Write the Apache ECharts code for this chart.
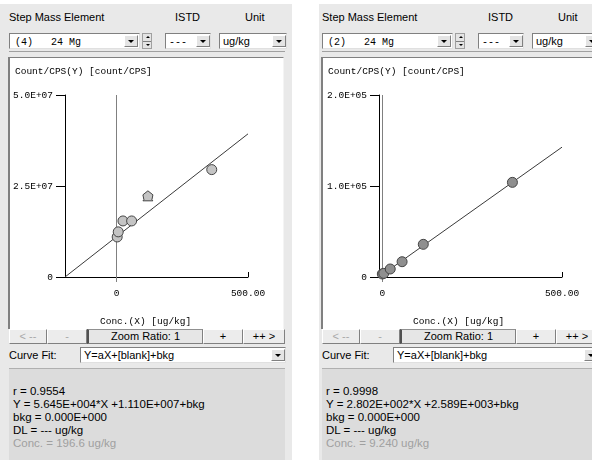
<!DOCTYPE html>
<html><head><meta charset="utf-8">
<script src="https://cdn.jsdelivr.net/npm/echarts@6/dist/echarts.min.js"></script>
<style>
html,body{margin:0;padding:0;width:592px;height:460px;overflow:hidden;background:#fff;font-family:"Liberation Sans",Arial,sans-serif;font-size:11px;color:#000}
.abs{position:absolute;box-sizing:border-box}
.panel{background:#e9e9e9;top:4px;height:456px}
.lbl{white-space:nowrap;line-height:13px}
.dd{background:#fff;border-top:1px solid #808080;border-left:1px solid #808080;border-right:1px solid #e0e0e0;border-bottom:1px solid #e0e0e0;height:16px;overflow:hidden;white-space:nowrap}
.dd .t{position:absolute;left:3px;top:1px;line-height:13px;white-space:pre}
.mono{font-family:"Liberation Mono",monospace;font-size:10px}
.arr{position:absolute;top:1px;width:14px;height:12px;background:#e4e4e4;border-top:1px solid #fff;border-left:1px solid #fff;border-right:1px solid #808080;border-bottom:1px solid #808080;box-sizing:border-box}
.arr:after{content:"";position:absolute;left:3px;top:4px;border-left:3px solid transparent;border-right:3px solid transparent;border-top:3px solid #000}
.spin{background:#e4e4e4;border:1px solid #a0a0a0;width:10px;height:16px}
.plot{background:#fff;border-top:1px solid #808080;border-left:2px solid #808080;border-right:1px solid #f4f4f4}
.btn{top:329px;height:15px;background:#ececec;border-top:1px solid #fff;border-left:1px solid #fff;border-right:1px solid #808080;border-bottom:1px solid #808080;text-align:center;line-height:13px;font-size:11px}
.dis{color:#a8a8a8}
.info{background:#dcdcdc;border-top:1px solid #b0b0b0;top:368px;height:92px}
.info div{position:absolute;left:4px;white-space:nowrap;font-size:11.5px;line-height:13px}
#chart{position:absolute;left:0;top:0;width:592px;height:460px;z-index:5;pointer-events:none}
</style></head>
<body>
<div id="ui"></div>
<div id="chart"></div>
<script>
// ---------- data ----------
const panelElement = ['(4)   24 Mg', '(2)   24 Mg'];
const unitLabel = 'ug/kg';
const curveFitLabel = 'Y=aX+[blank]+bkg';

// left calibration (Mg, step 4)
const leftConc = [2, 6, 24, 57, 119, 362];
const leftCps  = [1.10e7, 1.24e7, 1.54e7, 1.54e7, 2.23e7, 2.95e7];
const leftExcluded = [false, false, false, false, true, false];
const leftFit = {a: 5.645e4, b: 1.110e7};
const leftYTicks = [0, 2.5e7, 5.0e7];
const leftYTickLabels = ['0', '2.5E+07', '5.0E+07'];
const leftInfo = ['r = 0.9554', 'Y = 5.645E+004*X +1.110E+007+bkg', 'bkg = 0.000E+000', 'DL = --- ug/kg', 'Conc. = 196.6 ug/kg'];

// right calibration (Mg, step 2)
const rightConc = [0, 4, 22, 55, 114, 362];
const rightCps  = [3300, 4000, 8800, 16800, 35900, 104000];
const rightExcluded = [false, false, false, false, false, false];
const rightFit = {a: 2.802e2, b: 2.589e3};
const rightYTicks = [0, 1.0e5, 2.0e5];
const rightYTickLabels = ['0', '1.0E+05', '2.0E+05'];
const rightInfo = ['r = 0.9998', 'Y = 2.802E+002*X +2.589E+003+bkg', 'bkg = 0.000E+000', 'DL = --- ug/kg', 'Conc. = 9.240 ug/kg'];

const xTickValues = [0, 500];
const xTickLabels = ['0', '500.00'];
const xMax = 500;

// ---------- UI chrome ----------
function buildPanel(ox, elemText, info, grayLeft, grayW){
  const h = [];
  h.push(`<div class="abs panel" style="left:${grayLeft}px;width:${grayW}px"></div>`);
  h.push(`<div class="abs lbl" style="left:${ox+9}px;top:11px">Step Mass Element</div>`);
  h.push(`<div class="abs lbl" style="left:${ox+175}px;top:11px">ISTD</div>`);
  h.push(`<div class="abs lbl" style="left:${ox+245}px;top:11px">Unit</div>`);
  h.push(`<div class="abs dd" style="left:${ox+9}px;top:33px;width:131px"><span class="t mono" style="left:5px;top:2px">${elemText}</span><div class="arr" style="left:114px"></div></div>`);
  h.push(`<div class="abs spin" style="left:${ox+142}px;top:33px"><div style="position:absolute;left:0;top:7px;width:8px;border-top:1px solid #808080"></div><div style="position:absolute;left:3px;top:2px;border-left:2px solid transparent;border-right:2px solid transparent;border-bottom:2px solid #000"></div><div style="position:absolute;left:3px;top:10px;border-left:2px solid transparent;border-right:2px solid transparent;border-top:2px solid #000"></div></div>`);
  h.push(`<div class="abs dd" style="left:${ox+165}px;top:33px;width:46px"><span class="t mono" style="top:2px">---</span><div class="arr" style="left:30px"></div></div>`);
  h.push(`<div class="abs dd" style="left:${ox+219}px;top:33px;width:68px"><span class="t">${unitLabel}</span><div class="arr" style="left:52px"></div></div>`);
  h.push(`<div class="abs" style="left:${ox+9}px;top:51px;width:276px;border-top:1px solid #a0a0a0"></div>`);
  h.push(`<div class="abs plot" style="left:${ox+8}px;top:57px;width:276px;height:272px"></div>`);
  const btns = [['&lt; --', 9, 38, 'dis'], ['-', 47, 40, 'dis'], ['Zoom Ratio: 1', 87, 116, 'zr'], ['+', 203, 40, ''], ['++ &gt;', 243, 42, '']];
  btns.forEach(b=>{
    const extra = b[3]==='zr' ? 'border-left:2px solid #505050;border-top:1px solid #909090;background:#e6e6e6' : '';
    h.push(`<div class="abs btn ${b[3]==='dis'?'dis':''}" style="left:${ox+b[1]}px;width:${b[2]}px;${extra}">${b[0]}</div>`);
  });
  h.push(`<div class="abs lbl" style="left:${ox+9}px;top:349px">Curve Fit:</div>`);
  h.push(`<div class="abs dd" style="left:${ox+80}px;top:347px;width:206px"><span class="t">${curveFitLabel}</span><div class="arr" style="left:190px"></div></div>`);
  let inf = `<div class="abs info" style="left:${ox+9}px;width:276px">`;
  info.forEach((s,i)=>{ inf += `<div style="top:${16+i*13}px;${i===4?'color:#a0a0a0':''}">${s}</div>`; });
  inf += '</div>';
  h.push(inf);
  return h.join('');
}
document.getElementById('ui').innerHTML =
  buildPanel(0, panelElement[0], leftInfo, 0, 292) +
  buildPanel(313, panelElement[1], rightInfo, 319, 273);

// ---------- chart ----------
const chart = echarts.init(document.getElementById('chart'), null, {renderer:'canvas'});
const monoFont = '"Liberation Mono", monospace';

function gridSet(idx, left, conc, cps, excluded, fit, yTicks, yLabels, ptColor){
  const xMin = -fit.b / fit.a;
  const yMax = yTicks[yTicks.length-1];
  const grid = {left: left, top: 95, width: 183, height: 182};
  const xAxes = [{
    gridIndex: idx, type: 'value', min: xMin, max: xMax,
    axisLine: {show: true, onZero: false, lineStyle: {color: '#000', width: 1}},
    axisTick: {show: true, inside: true, length: 5, customValues: [xTickValues[1]], lineStyle: {color: '#000'}},
    axisLabel: {show: true, customValues: xTickValues, margin: 11, color: '#000', fontFamily: monoFont, fontSize: 9.5,
      formatter: v => xTickLabels[xTickValues.indexOf(v)] ?? ''},
    splitLine: {show: false}
  }, {
    gridIndex: idx, type: 'value', min: xMin, max: xMax, position: 'bottom',
    axisLine: {show: false, onZero: false},
    axisTick: {show: true, inside: false, length: 5, customValues: [xTickValues[0]], lineStyle: {color: '#808080'}},
    axisLabel: {show: false}, splitLine: {show: false}
  }];
  const yAxis = {
    gridIndex: idx, type: 'value', min: 0, max: yMax, interval: yTicks[1]-yTicks[0],
    axisLine: {show: true, onZero: false, lineStyle: {color: '#000', width: 1}},
    axisTick: {show: true, length: 9, lineStyle: {color: '#000'}},
    axisLabel: {margin: 12, color: '#000', fontFamily: monoFont, fontSize: 9.5,
      formatter: v => { const i = yTicks.findIndex(t => Math.abs(t - v) < yMax*1e-6); return i >= 0 ? yLabels[i] : ''; }},
    splitLine: {show: false}
  };
  const xi = idx*2, yi = idx;
  const series = [{
    type: 'line', xAxisIndex: xi, yAxisIndex: yi, z: 2,
    data: [[xMin, fit.a*xMin + fit.b], [xMax, fit.a*xMax + fit.b]],
    symbol: 'none', lineStyle: {color: '#3a3a3a', width: 1}, silent: true,
    markLine: {silent: true, symbol: 'none', label: {show: false},
      lineStyle: {color: '#808080', width: 1, type: 'solid'}, data: [{xAxis: 0}]}
  }, {
    type: 'scatter', xAxisIndex: xi, yAxisIndex: yi, z: 5,
    symbolSize: 10,
    itemStyle: {color: ptColor, borderColor: '#444', borderWidth: 1, opacity: 1},
    data: conc.map((c, i) => excluded[i]
      ? {value: [c, cps[i]], symbol: 'path://M5,0 L10,4 L9,9 L10,10 L0,10 L1,9 L0,4 Z', symbolSize: [10, 10]}
      : {value: [c, cps[i]], symbol: 'circle'})
  }];
  return {grid, xAxes, yAxis, series};
}

const L = gridSet(0, 65, leftConc, leftCps, leftExcluded, leftFit, leftYTicks, leftYTickLabels, '#c4c4c4');
const R = gridSet(1, 379, rightConc, rightCps, rightExcluded, rightFit, rightYTicks, rightYTickLabels, '#8f8f8f');

chart.setOption({
  animation: false,
  backgroundColor: 'transparent',
  grid: [L.grid, R.grid],
  xAxis: [...L.xAxes, ...R.xAxes],
  yAxis: [L.yAxis, R.yAxis],
  series: [...L.series, ...R.series],
  graphic: [
    {type: 'text', x: 15, y: 66, style: {text: 'Count/CPS(Y) [count/CPS]', fill: '#000', font: `9.5px ${monoFont}`}},
    {type: 'text', x: 328, y: 66, style: {text: 'Count/CPS(Y) [count/CPS]', fill: '#000', font: `9.5px ${monoFont}`}},
    {type: 'text', x: 100, y: 316, style: {text: 'Conc.(X) [ug/kg]', fill: '#000', font: `9.5px ${monoFont}`}},
    {type: 'text', x: 413, y: 316, style: {text: 'Conc.(X) [ug/kg]', fill: '#000', font: `9.5px ${monoFont}`}}
  ]
});
</script>
</body></html>
